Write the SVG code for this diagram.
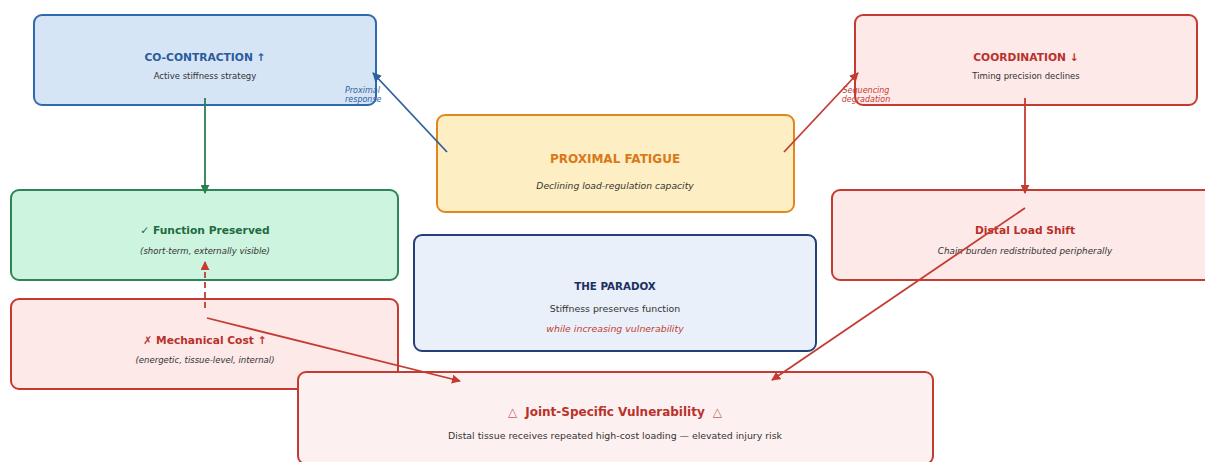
<svg xmlns="http://www.w3.org/2000/svg" width="1205" height="462" viewBox="0 0 1205 462">
  <style>
    text { font-family: "DejaVu Sans", "Liberation Sans", sans-serif; text-anchor: middle; }
    .title { font-weight: bold; font-size: 10.7px; }
    .sub { font-size: 8.5px; fill: #333; }
    .it { font-style: italic; }
    .lbl { font-size: 8px; font-style: italic; }
    .box { stroke-width: 2; }
    .blue { fill: #d6e5f5; stroke: #2f6aad; }
    .red { fill: #fde9e8; stroke: #c43b32; }
    .orange { fill: #fdefc3; stroke: #e3861d; }
    .green { fill: #cdf4df; stroke: #2e8557; }
    .navy { fill: #e9f0f9; stroke: #24407a; }
    .pink { fill: #fdf0f0; stroke: #c43b32; }
    .conn { fill: none; stroke-width: 1.8; }
    .warn { fill: #c8605a; font-weight: normal; }
  </style>
  <defs>
    <marker id="ah-blue" viewBox="0 0 10 10" refX="9" refY="5" markerWidth="5" markerHeight="5" orient="auto">
      <path d="M0,0 L10,5 L0,10 z" fill="#2f5f9f"/>
    </marker>
    <marker id="ah-red" viewBox="0 0 10 10" refX="9" refY="5" markerWidth="5" markerHeight="5" orient="auto">
      <path d="M0,0 L10,5 L0,10 z" fill="#c43b32"/>
    </marker>
    <marker id="ah-green" viewBox="0 0 10 10" refX="9" refY="5" markerWidth="5" markerHeight="5" orient="auto">
      <path d="M0,0 L10,5 L0,10 z" fill="#2e7d50"/>
    </marker>
  </defs>

  <rect width="1205" height="462" fill="#ffffff"/>

  <g id="co-contraction">
    <rect class="box blue" x="34" y="15" width="342" height="90" rx="8"/>
    <text class="title" x="205" y="61" style="fill:#2a5b9a">CO-CONTRACTION ↑</text>
    <text class="sub" x="205" y="79">Active stiffness strategy</text>
  </g>

  <g id="coordination">
    <rect class="box red" x="855" y="15" width="342" height="90" rx="8"/>
    <text class="title" x="1026" y="61" style="fill:#b8322b">COORDINATION ↓</text>
    <text class="sub" x="1026" y="79">Timing precision declines</text>
  </g>

  <g id="proximal-fatigue">
    <rect class="box orange" x="437" y="115" width="357" height="97" rx="8"/>
    <text class="title" x="615" y="163" style="fill:#d9791a;font-size:12px">PROXIMAL FATIGUE</text>
    <text class="sub it" x="615" y="189" style="font-size:9.2px">Declining load-regulation capacity</text>
  </g>

  <g id="function-preserved">
    <rect class="box green" x="11" y="190" width="387" height="90" rx="8"/>
    <text class="title" x="205" y="234" style="fill:#1f6b41">✓ Function Preserved</text>
    <text class="sub it" x="205" y="254">(short-term, externally visible)</text>
  </g>

  <g id="mechanical-cost">
    <rect class="box red" x="11" y="299" width="387" height="90" rx="8"/>
    <text class="title" x="205" y="344" style="fill:#b8322b">✗ Mechanical Cost ↑</text>
    <text class="sub it" x="205" y="363">(energetic, tissue-level, internal)</text>
  </g>

  <g id="distal-load-shift">
    <rect class="box red" x="832" y="190" width="386" height="90" rx="8"/>
    <text class="title" x="1025" y="234" style="fill:#b8322b">Distal Load Shift</text>
    <text class="sub it" x="1025" y="254" style="font-size:8.8px">Chain burden redistributed peripherally</text>
  </g>

  <g id="paradox">
    <rect class="box navy" x="414" y="235" width="402" height="116" rx="8"/>
    <text class="title" x="615" y="290" style="fill:#1d2f63;font-size:10.3px">THE PARADOX</text>
    <text class="sub" x="615" y="312" style="font-size:9.4px">Stiffness preserves function</text>
    <text class="sub it" x="615" y="332" style="fill:#c43b32;font-size:9.4px">while increasing vulnerability</text>
  </g>

  <g id="joint-vulnerability">
    <rect class="box pink" x="298" y="372" width="635" height="92" rx="8"/>
    <text class="title" x="615" y="416" style="fill:#b8322b;font-size:12px"><tspan class="warn">△</tspan><tspan dx="8">Joint-Specific Vulnerability</tspan><tspan class="warn" dx="8">△</tspan></text>
    <text class="sub" x="615" y="439" style="font-size:9.4px">Distal tissue receives repeated high-cost loading — elevated injury risk</text>
  </g>

  <g id="connectors">
    <line class="conn" x1="447" y1="152" x2="373" y2="73" stroke="#2f5f9f" marker-end="url(#ah-blue)"/>
    <line class="conn" x1="784" y1="152" x2="858" y2="73" stroke="#c43b32" marker-end="url(#ah-red)"/>
    <line class="conn" x1="205" y1="98" x2="205" y2="193" stroke="#2e7d50" marker-end="url(#ah-green)"/>
    <line class="conn" x1="1025" y1="98" x2="1025" y2="193" stroke="#c43b32" marker-end="url(#ah-red)"/>
    <line class="conn" x1="205" y1="308" x2="205" y2="262" stroke="#c43b32" stroke-dasharray="6,4" marker-end="url(#ah-red)"/>
    <line class="conn" x1="207" y1="318" x2="460" y2="381" stroke="#c43b32" marker-end="url(#ah-red)"/>
    <line class="conn" x1="1025" y1="208" x2="772" y2="380" stroke="#c43b32" marker-end="url(#ah-red)"/>
    <text class="lbl" x="345" y="93" style="fill:#2f5f9f;text-anchor:start">Proximal</text>
    <text class="lbl" x="345" y="102" style="fill:#2f5f9f;text-anchor:start">response</text>
    <text class="lbl" x="866" y="93" style="fill:#c43b32">Sequencing</text>
    <text class="lbl" x="866" y="102" style="fill:#c43b32">degradation</text>
  </g>
</svg>
